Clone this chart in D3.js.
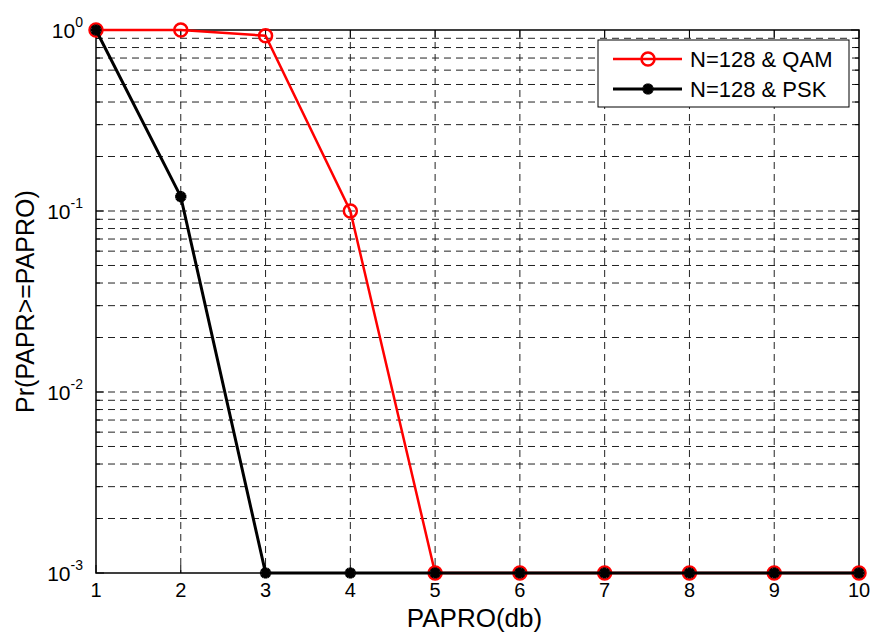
<!DOCTYPE html>
<html>
<head>
<meta charset="utf-8">
<script src="https://cdn.jsdelivr.net/npm/d3@7/dist/d3.min.js"></script>
<style>
  body { margin: 0; background: #fff; }
  text { font-family: "Liberation Sans", Arial, sans-serif; }
</style>
</head>
<body>
<svg id="chart" width="871" height="634"></svg>
<script>
// data
const papro = [1, 2, 3, 4, 5, 6, 7, 8, 9, 10];
const qam = [1, 1, 0.93, 0.1, 0.001, 0.001, 0.001, 0.001, 0.001, 0.001];
const psk = [1, 0.12, 0.001, 0.001, 0.001, 0.001, 0.001, 0.001, 0.001, 0.001];
const yTicks = [1, 0.1, 0.01, 0.001];
const yTickExp = ["0", "-1", "-2", "-3"];

const svg = d3.select("#chart");
const margin = { left: 96, top: 30, right: 12, bottom: 61 };
const W = 871 - margin.left - margin.right;
const H = 634 - margin.top - margin.bottom;

const x = d3.scaleLinear().domain([1, 10]).range([0, W]);
const y = d3.scaleLog().domain([0.001, 1]).range([H, 0]);

const g = svg.append("g").attr("transform", `translate(${margin.left},${margin.top})`);

// minor log values
const minor = [];
[0.001, 0.01, 0.1].forEach(d => { for (let k = 2; k <= 9; k++) minor.push(d * k); });

// grid
const dash = "7,5";
g.selectAll(".vgrid").data(papro.slice(1, -1)).enter().append("line")
  .attr("x1", d => x(d)).attr("x2", d => x(d))
  .attr("y1", 0).attr("y2", H)
  .attr("stroke", "#222").attr("stroke-width", 1).attr("stroke-dasharray", dash);
g.selectAll(".hgrid").data(minor.concat([0.01, 0.1])).enter().append("line")
  .attr("x1", 0).attr("x2", W)
  .attr("y1", d => y(d)).attr("y2", d => y(d))
  .attr("stroke", "#222").attr("stroke-width", 1).attr("stroke-dasharray", dash);

// ticks inward on all sides
const tickLen = 8, minorLen = 4;
papro.forEach(d => {
  g.append("line").attr("x1", x(d)).attr("x2", x(d)).attr("y1", H).attr("y2", H - tickLen).attr("stroke", "#000");
  g.append("line").attr("x1", x(d)).attr("x2", x(d)).attr("y1", 0).attr("y2", tickLen).attr("stroke", "#000");
});
yTicks.forEach(d => {
  g.append("line").attr("x1", 0).attr("x2", tickLen).attr("y1", y(d)).attr("y2", y(d)).attr("stroke", "#000");
  g.append("line").attr("x1", W).attr("x2", W - tickLen).attr("y1", y(d)).attr("y2", y(d)).attr("stroke", "#000");
});
minor.forEach(d => {
  g.append("line").attr("x1", 0).attr("x2", minorLen).attr("y1", y(d)).attr("y2", y(d)).attr("stroke", "#000");
  g.append("line").attr("x1", W).attr("x2", W - minorLen).attr("y1", y(d)).attr("y2", y(d)).attr("stroke", "#000");
});

// frame
g.append("rect").attr("width", W).attr("height", H)
  .attr("fill", "none").attr("stroke", "#000").attr("stroke-width", 1.5);

// tick labels
g.selectAll(".xl").data(papro).enter().append("text")
  .attr("x", d => x(d)).attr("y", H + 24)
  .attr("text-anchor", "middle").attr("font-size", 20).text(d => d);

const yl = g.selectAll(".yl").data(yTicks).enter().append("text")
  .attr("x", -13).attr("y", d => y(d) + 8)
  .attr("text-anchor", "end").attr("font-size", 21);
yl.append("tspan").text("10");
yl.append("tspan").attr("font-size", 14).attr("dy", -11).text((d, i) => yTickExp[i]);

// axis titles
svg.append("text").attr("x", margin.left + W / 2 - 3).attr("y", 627)
  .attr("text-anchor", "middle").attr("font-size", 26).text("PAPRO(db)");
svg.append("text")
  .attr("transform", `translate(34,${margin.top + H / 2}) rotate(-90)`)
  .attr("text-anchor", "middle").attr("font-size", 25).text("Pr(PAPR>=PAPRO)");

// lines
const line = d3.line().x((d, i) => x(papro[i])).y(d => y(d));

g.append("path").datum(qam).attr("d", line)
  .attr("fill", "none").attr("stroke", "#f00").attr("stroke-width", 2.5);
g.selectAll(".qm").data(qam).enter().append("circle")
  .attr("cx", (d, i) => x(papro[i])).attr("cy", d => y(d)).attr("r", 6.5)
  .attr("fill", "none").attr("stroke", "#f00").attr("stroke-width", 2.5);

g.append("path").datum(psk).attr("d", line)
  .attr("fill", "none").attr("stroke", "#000").attr("stroke-width", 3);
const star = d3.symbol().type(d3.symbolCross).size(70);
g.selectAll(".pm").data(psk).enter().append("path")
  .attr("transform", (d, i) => `translate(${x(papro[i])},${y(d)}) rotate(45)`)
  .attr("d", star()).attr("fill", "#000");
g.selectAll(".pm2").data(psk).enter().append("path")
  .attr("transform", (d, i) => `translate(${x(papro[i])},${y(d)})`)
  .attr("d", star()).attr("fill", "#000");

// legend
const lg = svg.append("g").attr("transform", "translate(598,40)");
lg.append("rect").attr("width", 251).attr("height", 67)
  .attr("fill", "#fff").attr("stroke", "#000").attr("stroke-width", 1);
const items = [
  { label: "N=128 & QAM", color: "#f00", mark: "circle" },
  { label: "N=128 & PSK", color: "#000", mark: "star" }
];
items.forEach((it, i) => {
  const cy = 19 + i * 30;
  lg.append("line").attr("x1", 15).attr("x2", 84).attr("y1", cy).attr("y2", cy)
    .attr("stroke", it.color).attr("stroke-width", it.mark === "circle" ? 2.5 : 3);
  if (it.mark === "circle") {
    lg.append("circle").attr("cx", 50).attr("cy", cy).attr("r", 6.5)
      .attr("fill", "none").attr("stroke", it.color).attr("stroke-width", 2.5);
  } else {
    lg.append("path").attr("transform", `translate(50,${cy}) rotate(45)`).attr("d", star()).attr("fill", "#000");
    lg.append("path").attr("transform", `translate(50,${cy})`).attr("d", star()).attr("fill", "#000");
  }
  lg.append("text").attr("x", 92).attr("y", cy + 8).attr("font-size", 22).text(it.label);
});
</script>
</body>
</html>
